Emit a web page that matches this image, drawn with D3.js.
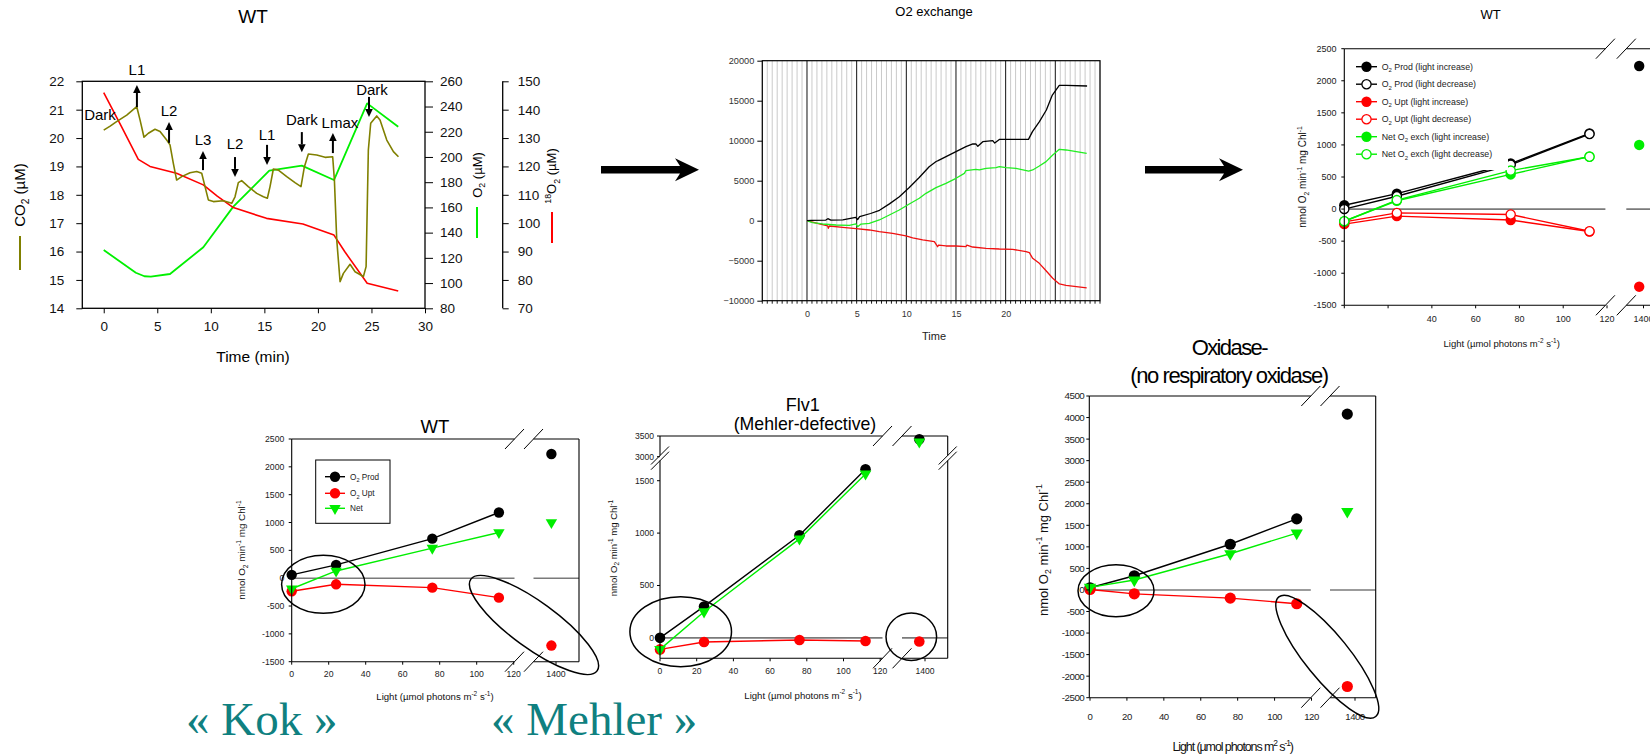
<!DOCTYPE html>
<html>
<head>
<meta charset="utf-8">
<title>O2 exchange and light response</title>
<script src="https://cdn.jsdelivr.net/npm/d3@7"></script>
<style>
  html, body { margin: 0; padding: 0; background: #fff; }
  svg { display: block; font-family: "Liberation Sans", Arial, Helvetica, sans-serif; }
</style>
</head>
<body>
<svg id="fig" width="1650" height="756" viewBox="0 0 1650 756"></svg>
<script>
// ---------- Panel A: dissolved gas traces during the light-step protocol (WT) ----------
const co2Time = [0, 0.6, 1.2, 2.15, 3.08, 3.39, 3.76, 4.17, 4.79, 5.26, 5.88, 6.19, 6.5, 6.81, 7.28, 8.06, 8.68, 9.15, 9.46, 9.77, 10.24, 11.17, 11.95, 12.26, 12.57, 12.88, 13.5, 14.29, 14.91, 15.28, 15.53, 15.84, 16.31, 17.09, 17.86, 18.42, 18.74, 19.11, 19.89, 20.67, 21.38, 21.54, 21.76, 22.07, 22.38, 23.0, 23.47, 24.25, 24.5, 24.71, 24.93, 25.49, 25.8, 26.43, 27.05, 27.52];
const co2Conc = [20.28, 20.42, 20.58, 20.81, 21.11, 20.64, 20.03, 20.17, 20.31, 20.23, 19.93, 19.76, 19.11, 18.52, 18.64, 18.78, 18.82, 18.76, 18.29, 17.82, 17.76, 17.79, 17.7, 17.93, 18.43, 18.5, 18.29, 18.05, 17.93, 17.88, 18.29, 18.91, 18.87, 18.64, 18.43, 18.29, 18.99, 19.44, 19.4, 19.32, 19.34, 18.52, 16.41, 14.94, 15.23, 15.55, 15.29, 15.12, 15.47, 19.58, 20.52, 20.78, 20.64, 19.93, 19.52, 19.34];
const o2Time = [0, 3.0, 3.8, 4.4, 6.19, 9.3, 12.1, 15.46, 18.5, 21.5, 24.6, 27.5];
const o2Conc = [126.2, 108.2, 105.4, 105.1, 107.2, 128.4, 160.6, 189.1, 193.1, 181.7, 242.5, 224.0];
const o18Time = [0, 1.6, 3.23, 4.32, 6.8, 9.3, 10.6, 12.1, 15.2, 18.6, 21.5, 22.5, 24.6, 27.5];
const o18Conc = [146, 134.5, 122.5, 120, 117.6, 113.5, 109.5, 105.5, 101.7, 99.7, 95.8, 90, 78.8, 76.1];
const timeTicks = [0, 5, 10, 15, 20, 25, 30];
const co2Ticks = [14, 15, 16, 17, 18, 19, 20, 21, 22];
const o2Ticks = [80, 100, 120, 140, 160, 180, 200, 220, 240, 260];
const o18Ticks = [70, 80, 90, 100, 110, 120, 130, 140, 150];
// light steps: name and step time
const stepNames = ['Dark', 'L1', 'L2', 'L3', 'L2', 'L1', 'Dark', 'Lmax', 'Dark'];
const stepTimes = [-0.35, 3.1, 6.1, 9.27, 12.26, 15.25, 18.5, 21.4, 24.77];

// ---------- Panel B: cumulative O2 exchange (MIMS) ----------
const prodTime = [0, 0.4, 1.9, 2.1, 2.4, 3.6, 4.9, 5.1, 5.3, 6.4, 7.3, 8.3, 9.3, 10.3, 11.3, 12.3, 13.0, 13.2, 14.0, 15.0, 16.0, 16.7, 17.0, 17.2, 17.7, 18.7, 18.9, 19.4, 20.0, 21.0, 22.3, 22.7, 23.4, 24.1, 24.7, 25.4, 26.1, 28.2];
const prodCum = [0, 50, 80, 250, 80, 100, 420, 150, 500, 900, 1300, 2100, 3000, 4150, 5400, 6750, 7400, 7500, 8000, 8630, 9250, 9590, 9600, 9300, 9880, 10000, 9700, 10170, 10170, 10170, 10170, 11130, 12380, 13840, 15710, 16920, 16920, 16840];
const netTime = [0, 0.56, 1.57, 2.92, 4.26, 4.93, 5.1, 5.44, 6.27, 7.28, 8.29, 9.29, 10.3, 11.31, 11.98, 12.99, 13.99, 15.0, 15.84, 16.0, 17.0, 17.35, 18.02, 19.03, 19.37, 20.04, 21.04, 22.32, 22.72, 23.39, 24.07, 24.74, 25.41, 26.08, 28.16];
const netCum = [0, -250, -410, -540, -580, -410, -750, -420, -330, 90, 710, 1340, 2090, 2800, 3420, 4130, 4670, 5300, 5920, 6250, 6420, 6340, 6550, 6630, 6750, 6630, 6550, 6210, 6340, 6840, 7380, 8210, 8920, 8840, 8420];
const uptTime = [0, 1.24, 2.08, 2.15, 2.25, 3.59, 4.93, 6.27, 7.28, 8.62, 9.96, 10.64, 11.65, 12.82, 13.15, 13.26, 13.99, 15.0, 16.0, 16.1, 16.68, 18.02, 19.37, 20.71, 22.05, 22.39, 22.72, 23.39, 24.07, 24.74, 25.41, 26.08, 28.16];
const uptCum = [0, -410, -660, -950, -660, -830, -1000, -1160, -1370, -1580, -1910, -2160, -2410, -2620, -3250, -3040, -3160, -3160, -3250, -3050, -3290, -3450, -3540, -3580, -3870, -4000, -4700, -5330, -6250, -7200, -7910, -8080, -8410];
const exchTicksY = [-10000, -5000, 0, 5000, 10000, 15000, 20000];
const exchTicksX = [0, 5, 10, 15, 20];

// ---------- Light-response curves (nmol O2 min-1 mg Chl-1) ----------
const lightLevels = [0, 24, 76, 112, 1380];
const wtProd = [60, 240, 710, 1180, 2230];
const wtUpt = [-235, -110, -170, -350, -1210];
const wtNet = [-190, 130, 540, 820, 1000];
const wtProdDecrease = [0, 200, 690, 1170];
const wtUptDecrease = [-200, -60, -85, -345];
const wtNetDecrease = [-190, 140, 600, 815];
const flvProd = [0, 300, 980, 1610, 3420];
const flvUpt = [-110, -40, -20, -30, -35];
const flvNet = [-110, 250, 945, 1565, 3360];
const oxProd = [50, 330, 1060, 1650, 4080];
const oxUpt = [10, -90, -190, -320, -2240];
const oxNet = [60, 230, 840, 1320, 1820];
const lightTicksLow = [0, 20, 40, 60, 80, 100, 120];
const lightTicksHigh = [1400];
const rateTicksWT = [-1500, -1000, -500, 0, 500, 1000, 1500, 2000, 2500];
const rateTicksFlvLow = [0, 500, 1000, 1500];
const rateTicksFlvHigh = [3000, 3500];
const rateTicksOx = [-2500, -2000, -1500, -1000, -500, 0, 500, 1000, 1500, 2000, 2500, 3000, 3500, 4000, 4500];

// ---------- drawing ----------
const FONT = '"Liberation Sans", Arial, Helvetica, sans-serif';
const GREEN = '#00ee00', RED = '#ff0000', OLIVE = '#808000';
const svg = d3.select('#fig');
svg.append('rect').attr('width', 1650).attr('height', 756).attr('fill', '#fff');

// text with sub/superscript parts: 'plain' or ['2','sub'] / ['-1','sup']
function rich(t, parts, fs) {
  let shift = 0;
  for (const p of parts) {
    const str = typeof p === 'string' ? p : p[0];
    const kind = typeof p === 'string' ? null : p[1];
    const target = kind === 'sub' ? 0.28 * fs : kind === 'sup' ? -0.42 * fs : 0;
    const ts = t.append('tspan').text(str).attr('dy', (target - shift).toFixed(2));
    if (kind) ts.attr('font-size', (fs * 0.68).toFixed(2));
    shift = target;
  }
  return t;
}
function label(g, x, y, parts, fs, opt = {}) {
  const t = g.append('text').attr('font-size', fs).attr('fill', opt.fill || '#000')
    .attr('text-anchor', opt.anchor || 'middle').attr('font-family', opt.family || FONT);
  if (opt.rotate) t.attr('transform', `translate(${x + fs * 0.35},${y}) rotate(-90)`);
  else t.attr('x', x).attr('y', y);
  if (opt.ls !== undefined) t.attr('letter-spacing', opt.ls);
  rich(t, typeof parts === 'string' ? [parts] : parts, fs);
  return t;
}
function seg(g, x1, y1, x2, y2, color = '#000', w = 1.1) {
  return g.append('line').attr('x1', x1).attr('y1', y1).attr('x2', x2).attr('y2', y2)
    .attr('stroke', color).attr('stroke-width', w);
}
function axisStyle(g, fs, fill, ls) {
  g.attr('font-family', FONT).attr('font-size', fs);
  g.selectAll('.domain').remove();
  g.selectAll('.tick line').attr('stroke', '#000');
  g.selectAll('.tick text').attr('fill', fill || '#111');
  if (ls !== undefined) g.selectAll('.tick text').attr('letter-spacing', ls);
}

// ===== Panel A =====
{
  const g = svg.append('g');
  const xA = d3.scaleLinear([-2, 30], [82.3, 425]);
  const yCO2 = d3.scaleLinear([14, 22], [308.3, 81.3]);
  const yO2 = d3.scaleLinear([80, 260], [308.3, 81.3]);
  const y18 = d3.scaleLinear([70, 150], [308.3, 81.3]);

  label(g, 253, 23, 'WT', 19);

  const trace = (t, v, y, color, w) => g.append('path').datum(d3.zip(t, v))
    .attr('d', d3.line().x(d => xA(d[0])).y(d => y(d[1])))
    .attr('fill', 'none').attr('stroke', color).attr('stroke-width', w).attr('stroke-linejoin', 'round');
  trace(o2Time, o2Conc, yO2, '#00f000', 1.8);
  trace(o18Time, o18Conc, y18, RED, 1.6);
  trace(co2Time, co2Conc, yCO2, OLIVE, 1.6);

  g.append('rect').attr('x', 82.3).attr('y', 81.3).attr('width', 425 - 82.3).attr('height', 227)
    .attr('fill', 'none').attr('stroke', '#000').attr('stroke-width', 1.3);

  g.append('g').attr('transform', 'translate(82.3,0)')
    .call(d3.axisLeft(yCO2).tickValues(co2Ticks).tickSize(6).tickPadding(12)).call(axisStyle, 13.5);
  g.append('g').attr('transform', 'translate(425,0)')
    .call(d3.axisRight(yO2).tickValues(o2Ticks).tickSize(8).tickPadding(7)).call(axisStyle, 13.5);
  seg(g, 502.7, 81.3, 502.7, 308.3, '#000', 1.3);
  g.append('g').attr('transform', 'translate(502.7,0)')
    .call(d3.axisRight(y18).tickValues(o18Ticks).tickSize(6).tickPadding(9)).call(axisStyle, 13.5);
  g.append('g').attr('transform', 'translate(0,308.3)')
    .call(d3.axisBottom(xA).tickValues(timeTicks).tickSize(5).tickPadding(8)).call(axisStyle, 13.5);

  label(g, 253, 361.5, 'Time (min)', 15.5);
  label(g, 20, 195, ['CO', ['2', 'sub'], ' (µM)'], 15, { rotate: true });
  seg(g, 20, 236, 20, 270, OLIVE, 2);
  label(g, 477, 175, ['O', ['2', 'sub'], ' (µM)'], 13, { rotate: true });
  seg(g, 477, 207, 477, 238, '#00f000', 2);
  label(g, 551.7, 176, [['18', 'sup'], 'O', ['2', 'sub'], ' (µM)'], 13, { rotate: true });
  seg(g, 552, 212, 552, 243, RED, 2);

  // light-step annotations (heights in CO2 units): [label, arrow tail, arrow tip]
  const stepHeights = [[20.81], [22.4, 21.09, 21.87], [20.95, 19.83, 20.57], [19.93, 18.87, 19.54],
    [19.79, 19.33, 18.63], [20.11, 19.76, 19.05], [20.64, 20.21, 19.5], [20.53, 19.47, 20.18], [21.69, 21.45, 20.74]];
  const labelShift = [0, 0, 0, 0, 0, 0, 0, 0.66, 0.28];
  stepNames.forEach((name, i) => {
    const x = xA(stepTimes[i]);
    const h = stepHeights[i];
    label(g, xA(stepTimes[i] + labelShift[i]), yCO2(h[0]) + 5.3, name, 15);
    if (h.length === 3) {
      const y1 = yCO2(h[1]), y2 = yCO2(h[2]);
      const dir = Math.sign(y2 - y1), head = 8;
      seg(g, x, y1, x, y2 - dir * head, '#000', 2);
      g.append('path').attr('d', `M${x - 3.8},${y2 - dir * head}L${x + 3.8},${y2 - dir * head}L${x},${y2}Z`).attr('fill', '#000');
    }
  });
}

// ===== flow arrows between panels =====
function flowArrow(x0, x1, yc) {
  svg.append('path').attr('fill', '#000').attr('d',
    `M${x0},${yc - 3.7}L${x1 - 19},${yc - 3.7}L${x1 - 24},${yc - 11.5}L${x1},${yc}L${x1 - 24},${yc + 11.5}L${x1 - 19},${yc + 3.7}L${x0},${yc + 3.7}Z`);
}
flowArrow(601, 699, 169.8);
flowArrow(1145, 1243, 169.8);

// ===== Panel B =====
{
  const g = svg.append('g');
  const xB = d3.scaleLinear([-4.5, 29.5], [762.3, 1100]);
  const yB = d3.scaleLinear([-10000, 20000], [300.7, 60.7]);
  label(g, 934, 15.5, 'O2 exchange', 13);

  const grid = d3.range(-4.5, 29.51, 0.5);
  g.selectAll('line.minor').data(grid.filter(t => Math.abs(t % 5) > 0.01)).join('line')
    .attr('x1', d => xB(d)).attr('x2', d => xB(d)).attr('y1', 60.7).attr('y2', 300.7)
    .attr('stroke', '#bdbdbd').attr('stroke-width', 0.8);
  g.selectAll('line.major').data([0, 5, 10, 15, 20, 25]).join('line')
    .attr('x1', d => xB(d)).attr('x2', d => xB(d)).attr('y1', 60.7).attr('y2', 300.7)
    .attr('stroke', '#111').attr('stroke-width', 1);
  g.selectAll('line.btick').data(grid).join('line')
    .attr('x1', d => xB(d)).attr('x2', d => xB(d)).attr('y1', 300.7).attr('y2', 303.7)
    .attr('stroke', '#000').attr('stroke-width', 0.9);

  const trace = (t, v, color) => g.append('path').datum(d3.zip(t, v))
    .attr('d', d3.line().x(d => xB(d[0])).y(d => yB(d[1])))
    .attr('fill', 'none').attr('stroke', color).attr('stroke-width', 1.3).attr('stroke-linejoin', 'round');
  trace(uptTime, uptCum, '#f01010');
  trace(netTime, netCum, '#22ee22');
  trace(prodTime, prodCum, '#000');

  g.append('rect').attr('x', 762.3).attr('y', 60.7).attr('width', 1100 - 762.3).attr('height', 240)
    .attr('fill', 'none').attr('stroke', '#000').attr('stroke-width', 1.2);
  g.append('g').attr('transform', 'translate(762.3,0)')
    .call(d3.axisLeft(yB).tickValues(exchTicksY).tickFormat(d3.format('d')).tickSize(5).tickPadding(3))
    .call(axisStyle, 9.2, '#333');
  g.append('g').attr('transform', 'translate(0,300.7)')
    .call(d3.axisBottom(xB).tickValues(exchTicksX).tickFormat(d3.format('d')).tickSize(0).tickPadding(10))
    .call(axisStyle, 9, '#333');
  label(g, 934, 340, 'Time', 11, { fill: '#222' });
}

// ===== light-response panels with broken axes =====
const triPath = (w, h) => `M${-w / 2},${-h / 3}L${w / 2},${-h / 3}L0,${2 * h / 3}Z`;
const circlePath = r => d3.symbol(d3.symbolCircle, Math.PI * r * r)();
const yLabelParts = ['nmol O', ['2', 'sub'], ' min', ['-1', 'sup'], ' mg Chl', ['-1', 'sup']];
const xLabelParts = ['Light (µmol photons m', ['-2', 'sup'], ' s', ['-1', 'sup'], ')'];

function ratePanel(cfg) {
  const g = svg.append('g');
  const { left, right, top, bottom, breakL, breakR } = cfg;
  const xLo = d3.scaleLinear([0, 120], cfg.xLo);
  const xHi = d3.scaleLinear([1300, 1500], cfg.xHi);
  const x = v => (v > 600 ? xHi(v) : xLo(v));
  const y = cfg.y;
  const fsT = cfg.tickFs;

  // zero line with break gap
  seg(g, left, y(0), breakL, y(0), '#7a7a7a', 1.6);
  seg(g, breakR, y(0), right, y(0), '#7a7a7a', 1.6);

  // series: connecting line over the low-light range, marker at every level
  for (const s of cfg.series) {
    const pts = s.values.map((v, i) => [lightLevels[i], v]);
    g.append('path').attr('d', d3.line().x(p => x(p[0])).y(p => y(p[1]))(pts.filter(p => p[0] < 600)))
      .attr('fill', 'none').attr('stroke', s.color).attr('stroke-width', 1.4);
    g.selectAll(null).data(pts).join('path')
      .attr('transform', p => `translate(${x(p[0])},${y(p[1])})`)
      .attr('d', s.marker === 'tri' ? triPath(cfg.r * 2.2, cfg.r * 1.9) : circlePath(s.open ? cfg.r - 0.6 : cfg.r))
      .attr('fill', s.open ? '#fff' : s.color).attr('stroke', s.color).attr('stroke-width', s.open ? 1.3 : 0);
  }

  // frame with break gaps
  seg(g, left, top, breakL, top); seg(g, breakR, top, right, top);
  seg(g, left, bottom, breakL, bottom); seg(g, breakR, bottom, right, bottom);
  const sides = cfg.rightEdge ? [left, right] : [left];
  for (const sx of sides) {
    if (cfg.yGap) { seg(g, sx, top, sx, cfg.yGap[0]); seg(g, sx, cfg.yGap[1], sx, bottom); }
    else seg(g, sx, top, sx, bottom);
  }
  for (const bx of [breakL, breakR]) for (const by of [top, bottom]) seg(g, bx - 9.5, by + 10, bx + 9.5, by - 10, '#000', 1);
  if (cfg.yGap) {
    const yc = (cfg.yGap[0] + cfg.yGap[1]) / 2;
    for (const sx of sides) for (const off of [-2.6, 2.6]) seg(g, sx - 9, yc + off + 9, sx + 9, yc + off - 9, '#000', 1);
  }

  // y ticks
  for (const v of cfg.yTicks) {
    seg(g, left - 3, y(v), left, y(v), '#000', 1);
    label(g, cfg.yLabelX, y(v) + fsT * 0.35, String(v), fsT, { anchor: 'end', fill: '#222', ls: cfg.ls });
  }
  // x ticks
  for (const v of lightTicksLow.concat(lightTicksHigh)) {
    seg(g, x(v), bottom, x(v), bottom + 3, '#000', 1);
    if (cfg.xShown.includes(v)) label(g, x(v), cfg.xTickY, String(v), cfg.xTickFs || fsT, { fill: '#222', ls: cfg.ls });
  }

  // titles and axis labels
  cfg.titles.forEach(t => label(g, t.x, t.y, t.text, t.fs, { ls: t.ls }));
  label(g, cfg.yTitle[0], cfg.yTitle[1], yLabelParts, cfg.yTitle[2], { rotate: true, fill: '#111' });
  label(g, cfg.xTitle[0], cfg.xTitle[1], cfg.xTitleParts || xLabelParts, cfg.xTitle[2], { fill: '#111', ls: cfg.xTitleLs });

  // hand-drawn rings around regions of interest
  for (const e of cfg.rings || []) {
    g.append('ellipse').attr('cx', 0).attr('cy', 0).attr('rx', e[2]).attr('ry', e[3])
      .attr('transform', `translate(${e[0]},${e[1]}) rotate(${e[4] || 0})`)
      .attr('fill', 'none').attr('stroke', '#000').attr('stroke-width', 1.5);
  }
  return { g, x, y };
}

// Panel C: WT, light increase and decrease series
{
  const series = [
    { name: ' Prod (light increase)', values: wtProd, color: '#000' },
    { name: ' Prod (light decrease)', values: wtProdDecrease, color: '#000', open: true },
    { name: ' Upt (light increase)', values: wtUpt, color: RED },
    { name: ' Upt (light decrease)', values: wtUptDecrease, color: RED, open: true },
    { name: ' exch (light increase)', values: wtNet, color: GREEN, net: true },
    { name: ' exch (light decrease)', values: wtNetDecrease, color: GREEN, open: true, net: true }
  ];
  const p = ratePanel({
    left: 1344.3, right: 1700, top: 48.7, bottom: 305.3, breakL: 1605.4, breakR: 1626.3,
    xLo: [1344.3, 1607], xHi: [1622, 1665], y: d3.scaleLinear([-1500, 2500], [305.3, 48.7]),
    r: 5.2, series, yTicks: rateTicksWT, yLabelX: 1336.5, tickFs: 9, xTickY: 322,
    xShown: [40, 60, 80, 100, 120, 1400],
    titles: [{ x: 1490.7, y: 18.6, text: 'WT', fs: 13 }],
    yTitle: [1302.7, 177, 10], xTitle: [1501.7, 346.5, 9.5]
  });
  // legend on a white panel
  const lg = p.g.append('g');
  lg.append('rect').attr('x', 1350).attr('y', 56).attr('width', 158).attr('height', 114).attr('fill', '#fff');
  series.forEach((s, i) => {
    const yy = 66.7 + i * 17.5;
    seg(lg, 1356, yy, 1377, yy, s.color, 1.4);
    lg.append('path').attr('transform', `translate(1366.5,${yy})`).attr('d', circlePath(s.open ? 4.6 : 5.2))
      .attr('fill', s.open ? '#fff' : s.color).attr('stroke', s.color).attr('stroke-width', s.open ? 1.3 : 0);
    const parts = s.net ? ['Net O', ['2', 'sub'], s.name] : ['O', ['2', 'sub'], s.name];
    label(lg, 1381.7, yy + 3.1, parts, 8.8, { anchor: 'start', fill: '#222' });
  });
}

// Panel D: WT
{
  const p = ratePanel({
    left: 291.7, right: 579, rightEdge: true, top: 439, bottom: 661.7, breakL: 514.5, breakR: 533.5,
    xLo: [291.7, 513.7], xHi: [533, 579], y: d3.scaleLinear([-1500, 2500], [661.7, 439]),
    r: 5.2, yTicks: rateTicksWT, yLabelX: 284.3, tickFs: 8.7, xTickY: 677,
    xShown: lightTicksLow.concat(lightTicksHigh),
    series: [
      { values: wtProd, color: '#000' },
      { values: wtUpt, color: RED },
      { values: wtNet, color: GREEN, marker: 'tri' }
    ],
    titles: [{ x: 435, y: 433.3, text: 'WT', fs: 18.5 }],
    yTitle: [241.7, 550, 9.8], xTitle: [435, 700, 9.6],
    rings: [[323.3, 584.3, 41.7, 29, 0], [534, 625, 78, 23, 36]]
  });
  const lg = p.g.append('g');
  lg.append('rect').attr('x', 315.7).attr('y', 460).attr('width', 74.3).attr('height', 63.3)
    .attr('fill', '#fff').attr('stroke', '#000').attr('stroke-width', 1);
  const entries = [[['O', ['2', 'sub'], ' Prod'], '#000', 'c'], [['O', ['2', 'sub'], ' Upt'], RED, 'c'], [['Net'], GREEN, 't']];
  entries.forEach((e, i) => {
    const yy = [476.7, 493.3, 508.3][i];
    seg(lg, 325, yy, 345, yy, e[1], 1.4);
    lg.append('path').attr('transform', `translate(335,${yy})`)
      .attr('d', e[2] === 't' ? triPath(11.4, 9.9) : circlePath(5.2)).attr('fill', e[1]);
    label(lg, 350, yy + 3, e[0], 8.2, { anchor: 'start', fill: '#222' });
  });
}

// Panel E: Flv1 (Mehler-defective), broken y axis
{
  const yLo = d3.scaleLinear([-195, 1650], [658.3, 465]);
  const yHi = d3.scaleLinear([2920, 3500], [460, 436]);
  const y = v => (v > 2200 ? yHi(v) : yLo(v));
  ratePanel({
    left: 660, right: 947.7, rightEdge: true, top: 436, bottom: 658.3, breakL: 882.5, breakR: 902,
    xLo: [660, 880.2], xHi: [896.5, 953.5], y, yGap: [455.6, 460.6],
    r: 5.3, yTicks: rateTicksFlvLow.concat(rateTicksFlvHigh), yLabelX: 654, tickFs: 8.6, xTickY: 674,
    xShown: lightTicksLow.concat(lightTicksHigh),
    series: [
      { values: flvProd, color: '#000' },
      { values: flvUpt, color: RED },
      { values: flvNet, color: GREEN, marker: 'tri' }
    ],
    titles: [{ x: 802.7, y: 411.3, text: 'Flv1', fs: 18 }, { x: 805, y: 429.6, text: '(Mehler-defective)', fs: 17.7 }],
    yTitle: [613.3, 548, 9.5], xTitle: [803, 698.5, 9.6],
    rings: [[680.7, 631.7, 50.8, 35, 0], [911.3, 636.7, 25.3, 23.7, 0]]
  });
}

// Panel F: Oxidase- (no respiratory oxidase)
{
  ratePanel({
    left: 1089.3, right: 1375.7, rightEdge: true, top: 396, bottom: 697.7, breakL: 1310.8, breakR: 1330,
    xLo: [1090, 1311.5], xHi: [1316.5, 1393.5], y: d3.scaleLinear([-2500, 4500], [697.7, 396]),
    r: 5.6, yTicks: rateTicksOx, yLabelX: 1084.3, tickFs: 9.8, xTickY: 719.5, xTickFs: 9.6, ls: -0.5,
    xShown: lightTicksLow.concat(lightTicksHigh),
    series: [
      { values: oxProd, color: '#000' },
      { values: oxUpt, color: RED },
      { values: oxNet, color: GREEN, marker: 'tri' }
    ],
    titles: [{ x: 1229.3, y: 354.6, text: 'Oxidase-', fs: 22, ls: -1.6 }, { x: 1229, y: 382.9, text: '(no respiratory oxidase)', fs: 22, ls: -1.4 }],
    yTitle: [1043.3, 550, 13], xTitle: [1232.7, 751, 12.5], xTitleLs: -1.1,
    xTitleParts: ['Light (µmol photons m', ['2', 'sup'], ' s', ['-1', 'sup'], ')'],
    rings: [[1116, 590.7, 38, 26, 0], [1327.3, 656.7, 77, 22, 51]]
  });
}

// ===== mechanism captions =====
label(svg, 186, 735, '« Kok »', 47, { anchor: 'start', fill: '#0f8080', family: '"Liberation Serif", "Times New Roman", serif' });
label(svg, 491, 735, '« Mehler »', 47, { anchor: 'start', fill: '#0f8080', family: '"Liberation Serif", "Times New Roman", serif' });
</script>
</body>
</html>
